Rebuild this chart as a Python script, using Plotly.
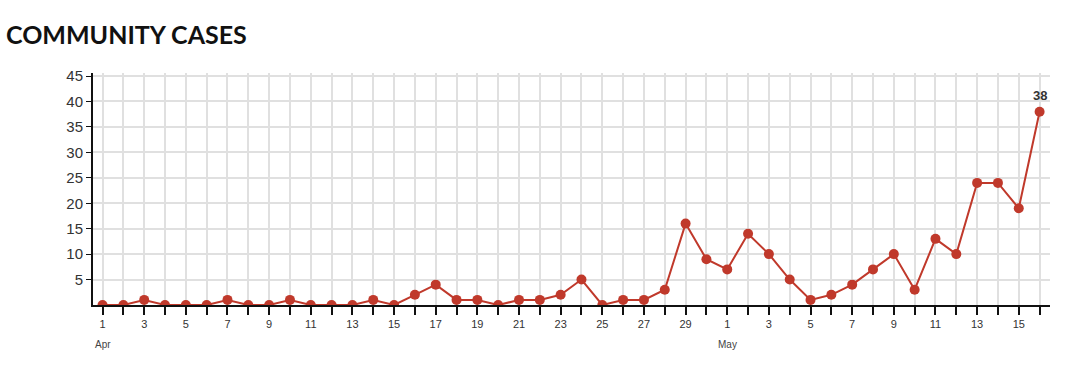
import pandas as pd
import plotly.graph_objects as go

title_text = "COMMUNITY CASES"
start_date = "2020-04-01"
cases = [0, 0, 1, 0, 0, 0, 1, 0, 0, 1, 0, 0, 0, 1, 0, 2, 4, 1, 1, 0,
         1, 1, 2, 5, 0, 1, 1, 3, 16, 9,
         7, 14, 10, 5, 1, 2, 4, 7, 10, 3, 13, 10, 24, 24, 19, 38]
y_ticks = [5, 10, 15, 20, 25, 30, 35, 40, 45]
month_labels = ["Apr", "May"]
month_starts = ["2020-04-01", "2020-05-01"]

dates = pd.date_range(start_date, periods=len(cases), freq="D")
tick_text = [str(d.day) if d.day % 2 == 1 else "" for d in dates]

red = "#c0392b"
fig = go.Figure()
fig.add_trace(go.Scatter(
    x=dates, y=cases, mode="lines+markers",
    line=dict(color=red, width=2),
    marker=dict(color=red, size=10),
    hoverinfo="x+y", showlegend=False,
))

annotations = [
    dict(x=dates[-1], y=cases[-1], text="<b>38</b>", showarrow=False,
         yshift=16, font=dict(family="Liberation Sans, Arial", size=13, color="#333"),
         xref="x", yref="y"),
    dict(x=0, xref="paper", xanchor="left", y=1, yref="paper", yanchor="bottom",
         text="<b>" + title_text + "</b>", showarrow=False, xshift=-89, yshift=22,
         font=dict(family="Lato", size=25, color="#111")),
]
for lbl, ms in zip(month_labels, month_starts):
    annotations.append(dict(x=ms, xref="x", y=0, yref="paper", yanchor="top",
                            yshift=-32, text=lbl, showarrow=False,
                            font=dict(family="Liberation Sans, Arial", size=10, color="#444")))

fig.update_layout(
    width=1080, height=371,
    margin=dict(l=93, r=30, t=73, b=66),
    paper_bgcolor="white", plot_bgcolor="white",
    annotations=annotations,
    xaxis=dict(
        range=[dates[0] - pd.Timedelta(hours=11), dates[-1] + pd.Timedelta(hours=12)],
        tickvals=dates, ticktext=tick_text,
        showgrid=True, gridcolor="#e0e0e0", gridwidth=2,
        showline=True, linecolor="#111", linewidth=2,
        ticks="outside", ticklen=8, tickwidth=2, tickcolor="#111",
        tickfont=dict(family="Liberation Sans, Arial", size=11, color="#333"),
        zeroline=False,
    ),
    yaxis=dict(
        range=[0, 45.6],
        tickvals=y_ticks,
        showgrid=True, gridcolor="#e0e0e0", gridwidth=2,
        showline=True, linecolor="#111", linewidth=2,
        ticks="outside", ticklen=5, tickwidth=1, tickcolor="#111",
        tickfont=dict(family="Liberation Sans, Arial", size=15, color="#333"),
        zeroline=False,
    ),
)

fig.write_html("out.html", config={"displayModeBar": False},
               post_script="document.body.style.margin='0';")
